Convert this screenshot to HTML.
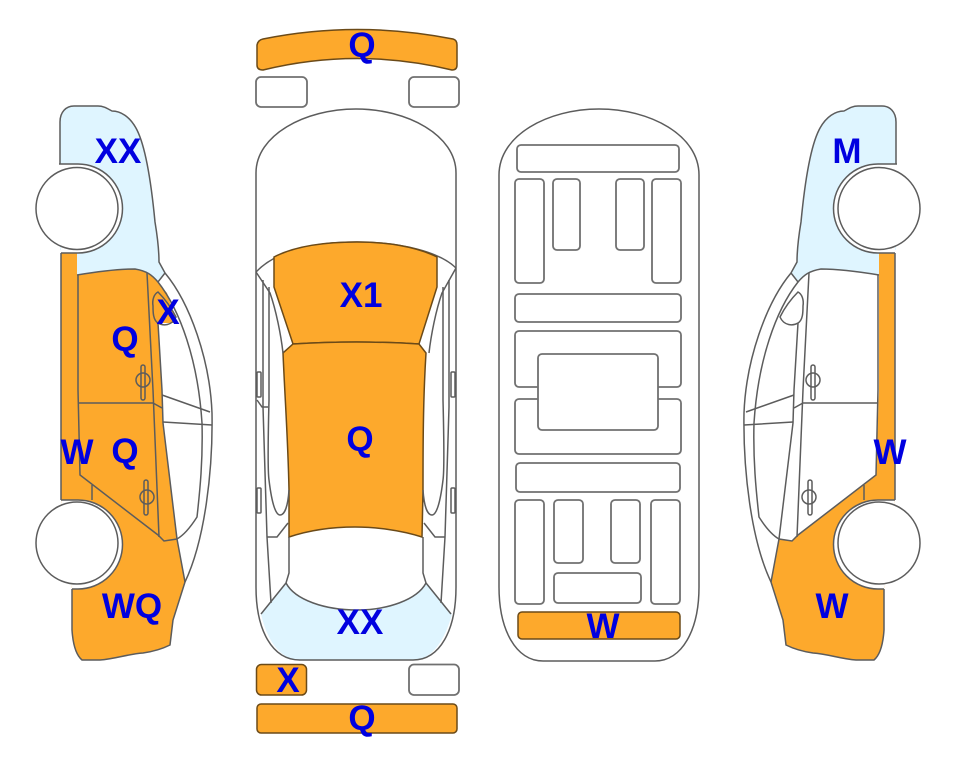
<!DOCTYPE html>
<html>
<head>
<meta charset="utf-8">
<style>
html,body{margin:0;padding:0;background:#fff;width:963px;height:768px;overflow:hidden}
svg{display:block}
text{font-family:"Liberation Sans",Arial,sans-serif;font-weight:bold;font-size:35px;fill:#0000e0;text-anchor:middle}
.l{fill:none;stroke:#5c5c5c;stroke-width:1.5}
.r{fill:#fff;stroke:#707070;stroke-width:1.8}
.o{fill:#fda92c}
.b{fill:#dff5ff}
.ob{fill:#fda92c;stroke:#6b4a18;stroke-width:1.5}
</style>
</head>
<body>
<svg width="963" height="768" viewBox="0 0 963 768" xmlns="http://www.w3.org/2000/svg">
<defs>
<path id="sky" d="M60 164V122C60 112 66 106 74 106H98C104 106 108 109 112 111C120 111 130 116 137 130C145 146 151 180 155 222C158 240 159 255 159 262L165 273L158 282C152 275 147 271 135 269C115 269 95 272 77 275V250H60Z"/>
<path id="low" d="M92 485L158 535L164 541L177 539L185 582L173 620L170 645C160 650 150 652 143 653C128 654 115 659 100 660H82C76 655 73 645 72 630V589L61 500V470L80 475Z"/>
<g id="side">
<path class="l" d="M60 164V122C60 112 66 106 74 106H98C104 106 108 109 112 111C120 111 130 116 137 130C145 146 151 180 155 222C158 240 159 255 159 262L165 273C190 303 210 360 212 413C213 470 205 540 185 582L173 620L170 645C160 650 150 652 143 653C128 654 115 659 100 660H82C76 655 73 645 72 630V589"/>
<path class="l" d="M61 253V500"/>
<path class="l" d="M165 273L158 282C152 275 147 271 135 269C115 269 95 272 77 275"/>
<path class="l" d="M158 282C180 310 198 360 202 423C203 460 200 490 197 517C190 528 184 535 177 539L164 541L158 535L80 475L78 390V275"/>
<path class="l" d="M147 273L153 390L159 537"/>
<path class="l" d="M158 323L162 390L163 423L177 539L185 582"/>
<path class="l" d="M78 403H153L162 408"/>
<path class="l" d="M162 395L210 412M163 422L212 425"/>
<path class="l" d="M92 485V500"/>
<path class="l" d="M158 292C154 294 152 300 153 306C153 312 153 320 158 323C163 326 172 326 176 317C172 309 166 300 158 292Z"/>
<rect class="l" x="141" y="365" width="4" height="35" rx="2"/>
<ellipse class="l" cx="143" cy="380" rx="7" ry="7"/>
<rect class="l" x="144" y="480" width="4" height="35" rx="2"/>
<ellipse class="l" cx="147" cy="497" rx="7" ry="7"/>
<path d="M59 164H78A44.5 44.5 0 0 1 78 253H61" fill="#fff" stroke="#5c5c5c" stroke-width="1.5"/>
<path d="M61 500H78A44.5 44.5 0 0 1 78 589H72" fill="#fff" stroke="#5c5c5c" stroke-width="1.5"/>
<circle cx="77" cy="208.500" r="41" fill="#fff" stroke="#5c5c5c" stroke-width="1.5"/>
<circle cx="77" cy="543" r="41" fill="#fff" stroke="#5c5c5c" stroke-width="1.5"/>
</g>
</defs>

<!-- left car -->
<use href="#sky" class="b"/>
<path class="o" d="M61 253H77V275C95 272 115 269 135 269C147 270 155 277 160 285L167 293L177 323H158L162 390L163 423L177 540L185 582L173 620L170 645C160 650 150 652 143 653C128 654 115 659 100 660H82C76 655 73 645 72 630V589L61 500Z"/>
<use href="#side"/>

<!-- right car -->
<g transform="matrix(-1 0 0 1 956 0)">
<use href="#sky" class="b"/>
<path class="o" d="M61 253H77V390L80 475L92 485H92L61 500Z"/>
<use href="#low" class="o"/>
<use href="#side"/>
</g>

<!-- top view -->
<path class="ob" d="M257 45Q258 40 263 39Q357 20 453 39Q457 40 457 45V65Q457 70 452 70Q357 47 263 70Q257 70 257 65Z"/>
<rect class="r" x="256" y="77" width="51" height="30" rx="5"/>
<rect class="r" x="409" y="77" width="50" height="30" rx="5"/>
<path class="b" d="M261 614L286 583C295 600 325 610 357 610C387 610 417 600 426 583L452 614C445 640 432 660 413 660H300C280 660 267 640 261 614Z"/>
<path class="l" d="M256 173C256 135 305 109 356 109C407 109 456 135 456 173V587C456 630 440 660 413 660H300C272 660 256 630 256 587Z"/>
<path class="l" d="M256 272C275 252 310 242 357 242C400 242 440 252 456 268"/>
<path class="ob" d="M274 257C295 246 325 242 357 242C385 242 415 246 437 257V287L419 344Q357 340 293 344L274 287Z" stroke-width="1"/>
<path class="ob" d="M293 344Q357 340 419 344L426 353C423 400 423 450 423 490L422 537C400 530 375 527 355 527C330 527 310 530 289 537V490C288 440 285 400 283 353Z" stroke-width="1"/>
<g>
<path class="l" d="M256 272L270 293C276 310 281 335 283 353"/>
<path class="l" d="M263 280V407L267 537L271 603"/>
<path class="l" d="M269 287V400C268 440 268 473 269 480C272 505 276 515 280 515C285 515 288 505 289 490"/>
<path class="l" d="M257 400L262 407H268"/>
<path class="l" d="M267 537H277L288 523"/>
<rect class="l" x="257" y="372" width="4" height="25" rx="1"/>
<rect class="l" x="257" y="488" width="4" height="25" rx="1"/>
<path class="l" d="M289 537V573L286 583L261 614"/>
</g>
<g transform="matrix(-1 0 0 1 712 0)">
<path class="l" d="M256 268L270 293C276 310 281 335 283 353"/>
<path class="l" d="M263 280V407L267 537L271 603"/>
<path class="l" d="M269 287V400C268 440 268 473 269 480C272 505 276 515 280 515C285 515 288 505 289 490"/>
<path class="l" d="M267 537H277L288 523"/>
<rect class="l" x="257" y="372" width="4" height="25" rx="1"/>
<rect class="l" x="257" y="488" width="4" height="25" rx="1"/>
<path class="l" d="M289 537V573L286 583L261 614"/>
</g>
<path class="l" d="M286 583C295 600 325 610 357 610C387 610 417 600 426 583"/>
<rect class="ob" x="256.500" y="664.500" width="50" height="30.500" rx="5"/>
<rect class="r" x="409" y="664.500" width="50" height="30.500" rx="5"/>
<rect class="ob" x="257" y="704" width="200" height="29" rx="4"/>

<!-- underbody -->
<path class="l" d="M499 175C499 135 548 109 599 109C650 109 699 135 699 175V587C699 630 682 661 655 661H543C516 661 499 630 499 587Z"/>
<rect class="r" x="517" y="145" width="162" height="27" rx="4"/>
<rect class="r" x="515" y="179" width="29" height="104" rx="4"/>
<rect class="r" x="553" y="179" width="27" height="71" rx="4"/>
<rect class="r" x="616" y="179" width="28" height="71" rx="4"/>
<rect class="r" x="652" y="179" width="29" height="104" rx="4"/>
<rect class="r" x="515" y="294" width="166" height="28" rx="4"/>
<rect class="r" x="515" y="331" width="166" height="56" rx="4"/>
<rect class="r" x="515" y="399" width="166" height="55" rx="4"/>
<rect class="r" x="538" y="354" width="120" height="76" rx="4"/>
<rect class="r" x="516" y="463" width="164" height="29" rx="4"/>
<rect class="r" x="515" y="500" width="29" height="104" rx="4"/>
<rect class="r" x="554" y="500" width="29" height="63" rx="4"/>
<rect class="r" x="611" y="500" width="29" height="63" rx="4"/>
<rect class="r" x="651" y="500" width="29" height="104" rx="4"/>
<rect class="r" x="554" y="573" width="87" height="30" rx="4"/>
<rect class="ob" x="518" y="612" width="162" height="27" rx="4"/>

<!-- labels -->
<text x="118" y="163">XX</text>
<text x="168" y="324">X</text>
<text x="125" y="351">Q</text>
<text x="77" y="464">W</text>
<text x="125" y="463">Q</text>
<text x="132" y="618">WQ</text>
<text x="362" y="57">Q</text>
<text x="361" y="307">X1</text>
<text x="360" y="451">Q</text>
<text x="360" y="634">XX</text>
<text x="288" y="692">X</text>
<text x="362" y="730">Q</text>
<text x="603" y="638">W</text>
<text x="847" y="163">M</text>
<text x="890" y="464">W</text>
<text x="832" y="618">W</text>
</svg>
</body>
</html>
